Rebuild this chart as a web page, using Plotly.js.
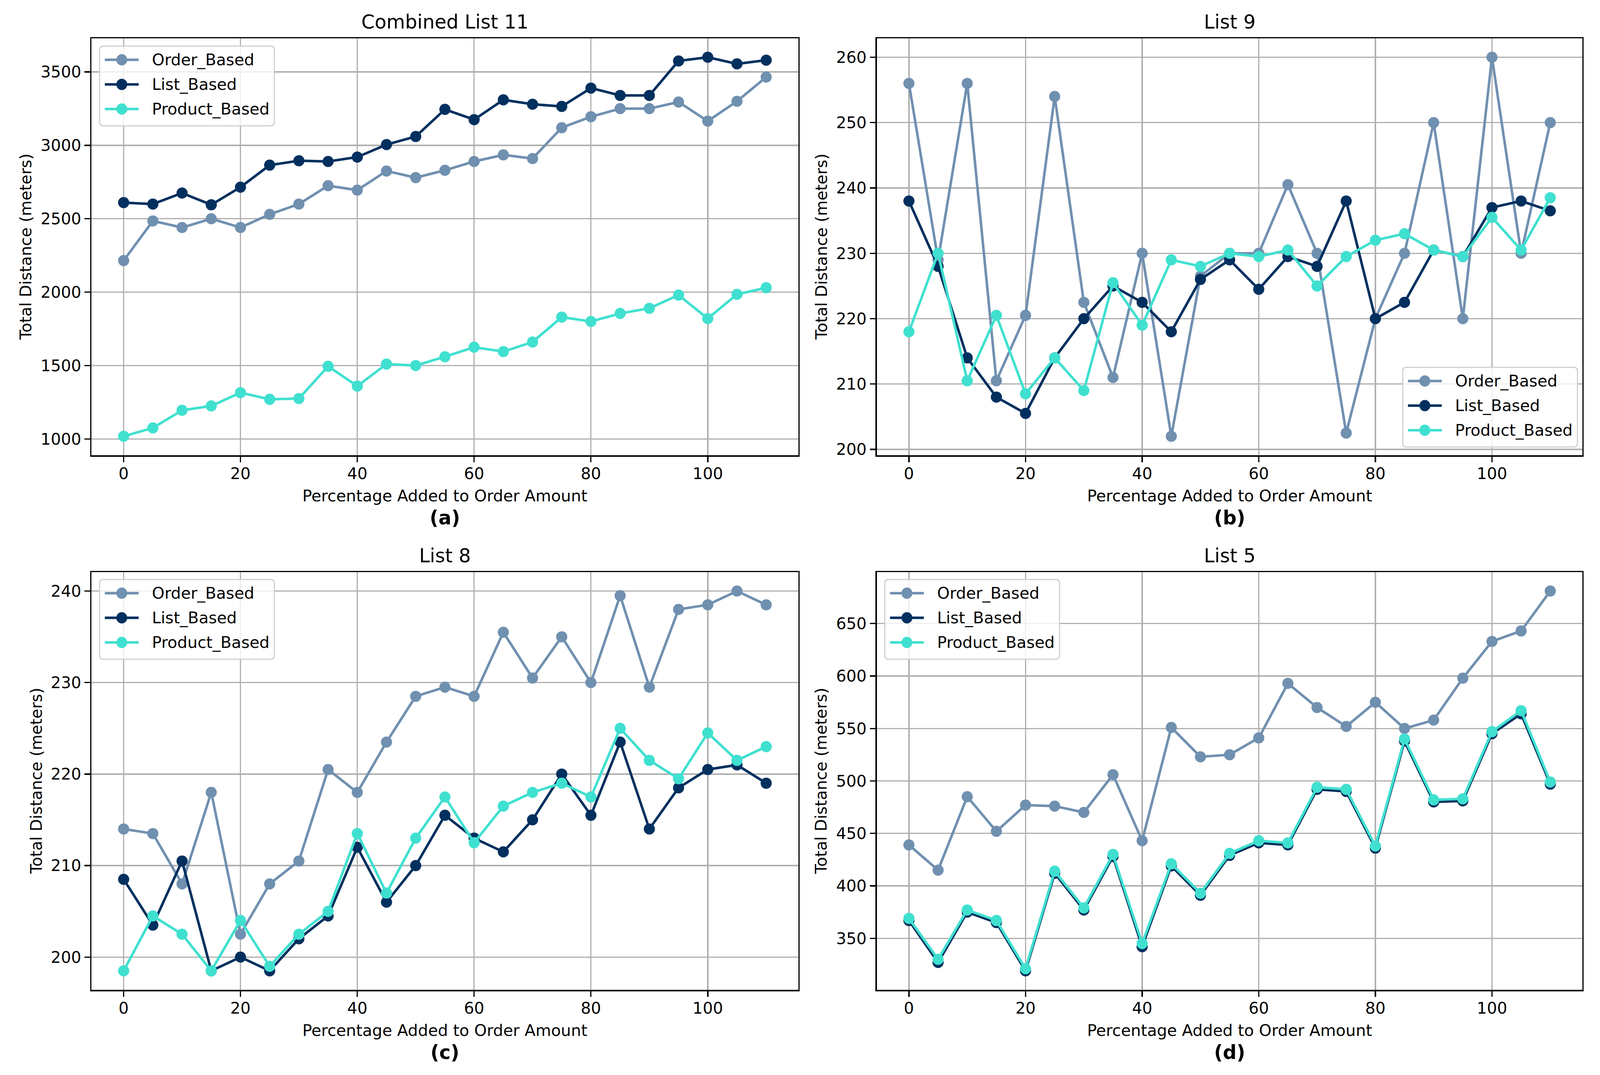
<!DOCTYPE html>
<html>
<head>
<meta charset="utf-8">
<script src="https://cdn.plot.ly/plotly-3.0.1.min.js"></script>
<style>html,body{margin:0;padding:0;background:#fff;overflow:hidden}#chart{width:100vw;height:100vh}</style>
</head>
<body>
<div id="chart"></div>
<script>
// ---- data ----
const pct = [0,5,10,15,20,25,30,35,40,45,50,55,60,65,70,75,80,85,90,95,100,105,110];
const seriesNames = ["Order_Based","List_Based","Product_Based"];
const panelTitles = ["Combined List 11","List 9","List 8","List 5"];
const panelLetters = ["(a)","(b)","(c)","(d)"];
const xTitle = "Percentage Added to Order Amount";
const yTitle = "Total Distance (meters)";

const a_order   = [2215,2485,2440,2500,2440,2530,2600,2725,2695,2825,2780,2830,2890,2935,2910,3120,3195,3250,3250,3295,3165,3300,3465];
const a_list    = [2610,2600,2675,2595,2715,2865,2895,2890,2920,3005,3060,3245,3175,3310,3280,3265,3390,3340,3340,3575,3600,3555,3580];
const a_product = [1018,1075,1195,1225,1315,1270,1275,1495,1360,1510,1500,1560,1625,1595,1660,1830,1800,1855,1890,1980,1820,1985,2030];

const b_order   = [256,229,256,210.5,220.5,254,222.5,211,230,202,226.5,230,230,240.5,230,202.5,220,230,250,220,260,230,250];
const b_list    = [238,228,214,208,205.5,214,220,225,222.5,218,226,229,224.5,229.5,228,238,220,222.5,230.5,229.5,237,238,236.5];
const b_product = [218,230,210.5,220.5,208.5,214,209,225.5,219,229,228,230,229.5,230.5,225,229.5,232,233,230.5,229.5,235.5,230.5,238.5];

const c_order   = [214,213.5,208,218,202.5,208,210.5,220.5,218,223.5,228.5,229.5,228.5,235.5,230.5,235,230,239.5,229.5,238,238.5,240,238.5];
const c_list    = [208.5,203.5,210.5,198.5,200,198.5,202,204.5,212,206,210,215.5,213,211.5,215,220,215.5,223.5,214,218.5,220.5,221,219];
const c_product = [198.5,204.5,202.5,198.5,204,199,202.5,205,213.5,207,213,217.5,212.5,216.5,218,219,217.5,225,221.5,219.5,224.5,221.5,223];

const d_order   = [439,415,485,452,477,476,470,506,443,551,523,525,541,593,570,552,575,550,558,598,633,643,681];
const d_list    = [367,327,375,365,319,412,377,428,342,419,391,429,441,439,492,490,436,538,480,481,545,564,497];
const d_product = [369,330,377,367,321,414,379,430,345,421,393,431,443,441,494,492,438,540,482,483,547,567,499];

// ---- style ----
const colors = ["#7090B0","#01305F","#40E0D0"];
const FONT = "DejaVu Sans, Liberation Sans, sans-serif";
const RW = 4257, RH = 2751;                 // reference design size
const W = window.innerWidth || RW, H = window.innerHeight || RH;
const fs = 0.98;                            // font compromise for non-uniform viewport
const px = v => v / RW, py = v => 1 - v / RH; // reference pixels -> paper

// matplotlib-like automatic range: data extent plus 5% margin
function autoRange(series) {
  const all = [].concat(...series);
  const lo = Math.min(...all), hi = Math.max(...all), m = (hi - lo) * 0.05;
  return [lo - m, hi + m];
}

const panels = [
  {series:[a_order,a_list,a_product], xd:[243.5,2124], yd:[98,1165], dtick:500, ytx:68},
  {series:[b_order,b_list,b_product], xd:[2333,4210], yd:[98,1165], dtick:10, ytx:2185},
  {series:[c_order,c_list,c_product], xd:[243.5,2124], yd:[1464,2533], dtick:10, ytx:96},
  {series:[d_order,d_list,d_product], xd:[2333,4210], yd:[1464,2533], dtick:50, ytx:2184}
];
// legend box top-left corners (reference px)
const legendBox = [[265,118],[3732,940],[265,1483],[2354,1483]];
const LBW = 465, LBH = 204;

const traces = [];
const shapes = [];
const annotations = [];
const layout = {
  width: W, height: H,
  margin: {l:0,r:0,t:0,b:0},
  paper_bgcolor: "#ffffff",
  plot_bgcolor: "#ffffff",
  font: {family: FONT, size: 41.7*fs, color: "#000"},
  showlegend: false
};

panels.forEach((p, i) => {
  const k = i === 0 ? "" : String(i+1);
  p.series.forEach((ys, j) => {
    traces.push({
      type: "scatter", mode: "lines+markers",
      x: pct, y: ys, name: seriesNames[j],
      xaxis: "x" + k, yaxis: "y" + k,
      line: {color: colors[j], width: 6.5},
      marker: {color: colors[j], size: 28.5},
      cliponaxis: false
    });
  });
  const common = {
    showgrid: true, gridcolor: "#b0b0b0", gridwidth: 3.3,
    showline: true, linecolor: "#000", linewidth: 3.5, mirror: true,
    ticks: "outside", ticklen: 14.6, tickwidth: 3.3, tickcolor: "#000",
    tickfont: {family: FONT, size: 41.7*fs, color: "#000"},
    zeroline: false, fixedrange: true
  };
  layout["xaxis" + k] = Object.assign({}, common, {
    domain: [px(p.xd[0]), px(p.xd[1])], range: [-5.5, 115.5],
    tick0: 0, dtick: 20, anchor: "y" + k, ticklabelstandoff: -6
  });
  layout["yaxis" + k] = Object.assign({}, common, {
    domain: [py(p.yd[1]), py(p.yd[0])], range: autoRange(p.series),
    tick0: 0, dtick: p.dtick, anchor: "x" + k, ticklabelstandoff: 0
  });
  const cx = px((p.xd[0] + p.xd[1]) / 2);
  annotations.push({
    text: panelTitles[i], xref: "paper", yref: "paper",
    x: cx, y: py(p.yd[0]), xanchor: "center", yanchor: "bottom", yshift: 11,
    showarrow: false, font: {family: FONT, size: 50*fs, color: "#000"}
  });
  annotations.push({
    text: xTitle, xref: "paper", yref: "paper",
    x: cx, y: py(p.yd[1] + 104), xanchor: "center", yanchor: "middle",
    showarrow: false, font: {family: FONT, size: 41.7*fs, color: "#000"}
  });
  annotations.push({
    text: "<b>" + panelLetters[i] + "</b>", xref: "paper", yref: "paper",
    x: cx, y: py(p.yd[1] + 160), xanchor: "center", yanchor: "middle",
    showarrow: false, font: {family: FONT, size: 50*fs, color: "#000"}
  });
  annotations.push({
    text: yTitle, xref: "paper", yref: "paper",
    x: px(p.ytx), y: py((p.yd[0] + p.yd[1]) / 2), xanchor: "center", yanchor: "middle",
    textangle: -90, showarrow: false, font: {family: FONT, size: 41.7*fs, color: "#000"}
  });

  // ---- legend (matplotlib style) ----
  const [bx, by] = legendBox[i];
  const L = px(bx), R = px(bx + LBW), T = py(by), B = py(by + LBH);
  const rx = 10 / RW, ry = 10 / RH;
  shapes.push({
    type: "path", xref: "paper", yref: "paper", layer: "above",
    path: `M${L+rx},${T} H${R-rx} Q${R},${T} ${R},${T-ry} V${B+ry} Q${R},${B} ${R-rx},${B} H${L+rx} Q${L},${B} ${L},${B+ry} V${T-ry} Q${L},${T} ${L+rx},${T} Z`,
    fillcolor: "rgba(255,255,255,0.8)", line: {color: "#d0d0d0", width: 3}
  });
  seriesNames.forEach((nm, j) => {
    const rowY = by + 35 + 63 * j;
    shapes.push({
      type: "line", xref: "paper", yref: "paper", layer: "above",
      x0: px(bx + 14), x1: px(bx + 104), y0: py(rowY), y1: py(rowY),
      line: {color: colors[j], width: 6.5}
    });
    shapes.push({
      type: "circle", xref: "paper", yref: "paper", layer: "above",
      x0: px(bx + 59 - 14.5), x1: px(bx + 59 + 14.5),
      y0: py(rowY + 14.5), y1: py(rowY - 14.5),
      fillcolor: colors[j], line: {width: 0}
    });
    annotations.push({
      text: nm, xref: "paper", yref: "paper",
      x: px(bx + 137), y: py(rowY), xanchor: "left", yanchor: "middle",
      showarrow: false, font: {family: FONT, size: 41.7*fs, color: "#000"}
    });
  });
});

layout.shapes = shapes;
layout.annotations = annotations;

Plotly.newPlot("chart", traces, layout, {staticPlot: true, displayModeBar: false});
</script>
</body>
</html>
